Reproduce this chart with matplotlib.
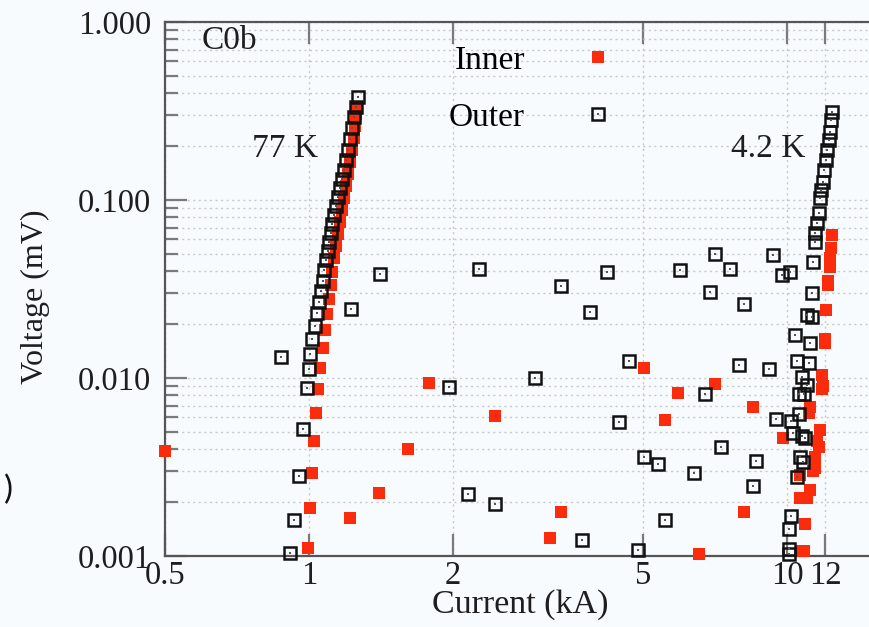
import matplotlib
matplotlib.use("Agg")
import matplotlib.pyplot as plt
from matplotlib.ticker import FixedLocator, FixedFormatter, LogLocator, NullLocator

# 77 K branch
outer_77k_i = [1.267, 1.255, 1.243, 1.231, 1.219, 1.207, 1.196, 1.184, 1.173, 1.162,
               1.150, 1.139, 1.128, 1.118, 1.112, 1.102, 1.096, 1.086, 1.076, 1.070,
               1.060, 1.050, 1.040, 1.030, 1.015, 1.005, 1.000, 0.991, 0.972, 0.953,
               0.931, 0.913]
outer_77k_v = [0.379, 0.333, 0.293, 0.254, 0.220, 0.191, 0.168, 0.147, 0.131, 0.117,
               0.104, 0.0925, 0.0823, 0.0733, 0.0653, 0.0581, 0.0517, 0.0460, 0.0404, 0.0351,
               0.0308, 0.0267, 0.0232, 0.0196, 0.0166, 0.0136, 0.0112, 0.00879, 0.00517, 0.00281,
               0.00159, 0.00104]
inner_77k_i = [0.996, 1.005, 1.015, 1.025, 1.035, 1.045, 1.055, 1.070, 1.081, 1.091,
               1.102, 1.112, 1.118, 1.128, 1.139, 1.150, 1.162, 1.173, 1.184, 1.196,
               1.207, 1.219, 1.231, 1.243, 1.249, 1.255, 1.261]
inner_77k_v = [0.00111, 0.00186, 0.00293, 0.00443, 0.00636, 0.00868, 0.0114, 0.0147, 0.0186, 0.0229,
               0.0278, 0.0333, 0.0394, 0.0472, 0.0551, 0.0644, 0.0752, 0.0879, 0.1026, 0.120,
               0.140, 0.164, 0.191, 0.223, 0.260, 0.304, 0.329]

# 4.2 K branch
outer_42k_i = [10.10, 10.11, 10.11, 10.20, 10.48, 10.65, 10.79, 10.28, 10.76, 10.91,
               10.19, 10.57, 10.57, 10.86, 11.00, 10.76, 10.48, 11.13, 11.14, 10.40,
               11.00, 11.27, 11.27, 11.35, 11.45, 11.45, 11.54, 11.63, 11.73, 11.79,
               11.88, 11.96, 12.06, 12.12, 12.21, 12.31, 12.37, 12.41]
outer_42k_v = [0.00142, 0.00110, 0.00103, 0.00168, 0.00279, 0.00361, 0.00339, 0.00493, 0.00472, 0.00458,
               0.00575, 0.00628, 0.00810, 0.00810, 0.00910, 0.01009, 0.01246, 0.01210, 0.0158, 0.0175,
               0.0226, 0.0219, 0.0299, 0.0450, 0.0583, 0.0650, 0.0740, 0.0842, 0.102, 0.114,
               0.127, 0.147, 0.168, 0.191, 0.217, 0.242, 0.281, 0.311]
inner_42k_i = [10.65, 10.74, 10.85, 10.91, 11.00, 11.14, 10.65, 11.30, 11.45, 11.45,
               11.55, 11.63, 11.73, 11.09, 11.14, 11.84, 11.90, 11.83, 11.98, 12.00,
               12.07, 12.17, 12.20, 12.27, 12.31, 12.35, 12.41]
inner_42k_v = [0.00212, 0.00106, 0.00106, 0.00151, 0.00212, 0.00235, 0.00285, 0.00300, 0.00311, 0.00361,
               0.00440, 0.00411, 0.00510, 0.00633, 0.00690, 0.00864, 0.00900, 0.0104, 0.0158, 0.0165,
               0.0241, 0.0333, 0.0350, 0.0422, 0.0470, 0.0540, 0.0636]

# scattered points between the two branches
outer_mid_i = [0.874, 1.225, 1.409, 1.96, 2.15, 2.27, 2.45, 2.97, 3.37, 3.72,
               3.87, 4.20, 4.45, 4.68, 4.87, 5.03, 5.37, 5.54, 5.98, 6.37,
               6.72, 6.90, 7.07, 7.26, 7.60, 7.94, 8.11, 8.47, 8.61, 9.14,
               9.34, 9.49, 9.75, 10.15]
outer_mid_v = [0.0131, 0.0244, 0.0384, 0.0089, 0.00222, 0.0408, 0.00196, 0.0100, 0.0330, 0.00123,
               0.0236, 0.0393, 0.00566, 0.01246, 0.00108, 0.00358, 0.00327, 0.00160, 0.0404, 0.00291,
               0.00816, 0.0305, 0.0497, 0.00411, 0.0410, 0.01183, 0.0259, 0.00248, 0.00343, 0.01119,
               0.0494, 0.00586, 0.0377, 0.0396]
inner_mid_i = [0.50, 1.22, 1.40, 1.61, 1.78, 2.45, 3.19, 3.37, 5.03, 5.54,
               5.90, 6.54, 7.07, 8.11, 8.47, 9.80]
inner_mid_v = [0.0039, 0.00164, 0.00227, 0.00399, 0.00941, 0.00614, 0.00127, 0.00177, 0.01134, 0.00579,
               0.00827, 0.00103, 0.00922, 0.00177, 0.00690, 0.00463]

x_ticks = [0.5, 1, 2, 5, 10, 12]
x_tick_labels = ["0.5", "1", "2", "5", "10", "12"]
y_ticks = [0.001, 0.01, 0.1, 1.0]
y_tick_labels = ["0.001", "0.010", "0.100", "1.000"]

RED = "#fb2c0c"
BG = "#f8fbfd"
INK = "#1e1e1e"

plt.rcParams["font.family"] = "Liberation Serif"

inner_i = inner_77k_i + inner_42k_i + inner_mid_i
inner_v = inner_77k_v + inner_42k_v + inner_mid_v
outer_i = outer_77k_i + outer_42k_i + outer_mid_i
outer_v = outer_77k_v + outer_42k_v + outer_mid_v

fig = plt.figure(figsize=(8.7, 6.27), dpi=100, facecolor=BG)
ax = fig.add_axes([165 / 870, 71 / 627, 705 / 870, 534 / 627], facecolor=BG)
ax.set_xscale("log")
ax.set_yscale("log")
ax.set_xlim(0.5, 14.9)
ax.set_ylim(0.001, 1.0)

inner, = ax.plot(inner_i, inner_v, ls="none", marker="s", ms=9.0, mew=0,
                 color=RED, zorder=3, clip_on=False)
outer, = ax.plot(outer_i, outer_v, ls="none", marker="s", ms=8.0, mew=1.8,
                 mfc="none", mec="#111111", zorder=4, clip_on=False)
dots, = ax.plot(outer_i, outer_v, ls="none", marker="s", ms=1.6, mew=0,
                color="#555555", zorder=5, clip_on=False)

ax.xaxis.set_major_locator(FixedLocator(x_ticks))
ax.xaxis.set_major_formatter(FixedFormatter(x_tick_labels))
ax.xaxis.set_minor_locator(NullLocator())
ax.yaxis.set_major_locator(FixedLocator(y_ticks))
ax.yaxis.set_major_formatter(FixedFormatter(y_tick_labels))
ax.yaxis.set_minor_locator(LogLocator(base=10, subs=range(2, 10)))

ax.tick_params(which="major", direction="in", length=16, width=1.6, color="#7a7a7a",
               top=True, right=False, labelsize=23.5, labelcolor=INK)
ax.tick_params(which="minor", direction="in", length=9, width=1.6, color="#7a7a7a",
               top=False, right=False)
ax.tick_params(axis="x", pad=3)
ax.tick_params(axis="y", pad=10)

ax.grid(which="major", axis="x", ls=(0, (1.5, 2.5)), color="#c8c8c8", lw=1.0)
ax.grid(which="both", axis="y", ls=(0, (1.5, 2.5)), color="#c8c8c8", lw=1.0)

for side in ("left", "bottom", "top"):
    ax.spines[side].set_color("#555555")
    ax.spines[side].set_linewidth(1.6)
ax.spines["right"].set_visible(False)

ax.set_xlabel("Current (kA)", fontsize=24.5, color=INK)
ax.set_ylabel("Voltage (mV)", fontsize=23, color=INK)
ax.xaxis.set_label_coords(0.504, -0.062)
ax.yaxis.set_label_coords(-0.163, 0.485)

ax.text(0.052, 0.965, "C0b", transform=ax.transAxes, fontsize=24,
        ha="left", va="center", color=INK)
ax.text(0.17, 0.762, "77 K", transform=ax.transAxes, fontsize=24,
        ha="center", va="center", color=INK)
ax.text(0.855, 0.762, "4.2 K", transform=ax.transAxes, fontsize=24,
        ha="center", va="center", color=INK)

ax.legend([inner, (outer, dots)], ["Inner", "Outer"], loc="upper left",
          bbox_to_anchor=(0.36, 1.012), markerfirst=False, frameon=False,
          fontsize=24, handletextpad=1.2, labelspacing=0.78, handlelength=2.0)

fig.text(0.004, 1 - 490 / 627, ")", fontsize=24, family="Lato",
         ha="left", va="center", color="#111111")

fig.savefig("out.png", dpi=100, facecolor=BG)
